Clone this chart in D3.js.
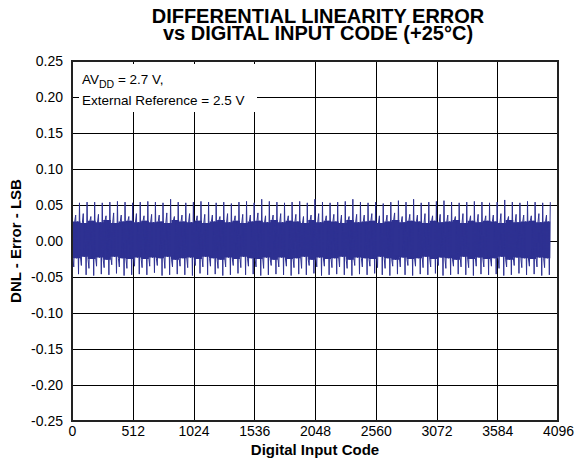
<!DOCTYPE html>
<html>
<head>
<meta charset="utf-8">
<script src="https://cdn.jsdelivr.net/npm/d3@7"></script>
<style>
  html, body { margin: 0; padding: 0; background: #fff; }
  svg { display: block; font-family: "Liberation Sans", Arial, Helvetica, sans-serif; }
</style>
</head>
<body>
<svg id="chart" width="580" height="460"></svg>
<script>
// ---------- data ----------
const titleLines = ["DIFFERENTIAL LINEARITY ERROR", "vs DIGITAL INPUT CODE (+25\u00B0C)"];
const xTicks = [0, 512, 1024, 1536, 2048, 2560, 3072, 3584, 4096];
const yTicks = [-0.25, -0.20, -0.15, -0.10, -0.05, 0.00, 0.05, 0.10, 0.15, 0.20, 0.25];
const xLabel = "Digital Input Code";
const yLabel = "DNL - Error - LSB";

// start code of each 64-code segment
const segStart = [
  0, 64, 128, 192, 256, 320, 384, 448, 512,
  576, 640, 704, 768, 832, 896, 960, 1024, 1088,
  1152, 1216, 1280, 1344, 1408, 1472, 1536, 1600, 1664,
  1728, 1792, 1856, 1920, 1984, 2048, 2112, 2176, 2240,
  2304, 2368, 2432, 2496, 2560, 2624, 2688, 2752, 2816,
  2880, 2944, 3008, 3072, 3136, 3200, 3264, 3328, 3392,
  3456, 3520, 3584, 3648, 3712, 3776, 3840, 3904, 3968
];
// code offsets inside a segment at which the listed values are read
const offBandBotA = 7, offMidNeg = 15, offBandTopA = 23, offMidPos = 31,
      offBandBotB = 39, offBandTopB = 47, offPeakNeg = 55, offPeakPos = 63;

const peakPos = [
  0.053,0.054,0.054,0.053,0.054,0.055,0.054,0.053,0.054,
  0.055,0.054,0.053,0.058,0.054,0.053,0.054,0.055,0.054,
  0.053,0.054,0.052,0.054,0.055,0.053,0.058,0.055,0.054,
  0.053,0.054,0.055,0.053,0.058,0.054,0.053,0.054,0.055,
  0.058,0.054,0.053,0.054,0.052,0.054,0.056,0.054,0.058,
  0.053,0.054,0.055,0.056,0.054,0.053,0.054,0.055,0.054,
  0.053,0.054,0.057,0.054,0.053,0.055,0.054,0.053,0.054
];
const peakNeg = [
  -0.046,-0.047,-0.048,-0.046,-0.047,-0.045,-0.048,-0.047,-0.046,
  -0.047,-0.044,-0.048,-0.047,-0.046,-0.047,-0.048,-0.045,-0.047,
  -0.046,-0.048,-0.047,-0.045,-0.047,-0.046,-0.048,-0.047,-0.046,
  -0.047,-0.048,-0.046,-0.047,-0.045,-0.048,-0.047,-0.046,-0.047,
  -0.048,-0.046,-0.047,-0.045,-0.047,-0.048,-0.046,-0.047,-0.048,
  -0.046,-0.047,-0.045,-0.048,-0.047,-0.046,-0.047,-0.048,-0.046,
  -0.047,-0.046,-0.048,-0.047,-0.045,-0.047,-0.046,-0.048,-0.047
];
const midPos = [
  0.036,0.038,0.034,0.037,0.035,0.039,0.036,0.034,0.038,
  0.035,0.037,0.036,0.039,0.034,0.036,0.038,0.035,0.037,
  0.036,0.034,0.038,0.035,0.037,0.036,0.039,0.035,0.036,
  0.038,0.035,0.037,0.034,0.036,0.038,0.035,0.037,0.036,
  0.034,0.037,0.036,0.038,0.035,0.036,0.039,0.034,0.037,
  0.036,0.038,0.035,0.037,0.036,0.034,0.038,0.035,0.037,
  0.035,0.036,0.038,0.034,0.037,0.036,0.035,0.038,0.036
];
const midNeg = [
  -0.036,-0.034,-0.038,-0.035,-0.037,-0.033,-0.036,-0.038,-0.035,
  -0.037,-0.035,-0.034,-0.038,-0.036,-0.035,-0.037,-0.034,-0.036,
  -0.035,-0.038,-0.036,-0.034,-0.037,-0.035,-0.036,-0.038,-0.034,
  -0.036,-0.035,-0.037,-0.038,-0.034,-0.036,-0.035,-0.037,-0.036,
  -0.038,-0.034,-0.036,-0.035,-0.037,-0.038,-0.035,-0.036,-0.034,
  -0.035,-0.037,-0.036,-0.034,-0.038,-0.035,-0.036,-0.037,-0.035,
  -0.036,-0.035,-0.038,-0.036,-0.034,-0.037,-0.035,-0.036,-0.037
];
const bandTop = [
  0.027,0.025,0.028,0.026,0.029,0.025,0.027,0.028,0.026,
  0.028,0.026,0.027,0.025,0.029,0.027,0.026,0.028,0.025,
  0.027,0.029,0.026,0.028,0.025,0.027,0.028,0.026,0.029,
  0.026,0.028,0.027,0.025,0.029,0.026,0.028,0.027,0.025,
  0.029,0.026,0.027,0.028,0.025,0.027,0.029,0.026,0.028,
  0.027,0.025,0.028,0.026,0.027,0.029,0.025,0.028,0.026,
  0.028,0.027,0.025,0.029,0.026,0.027,0.028,0.026,0.027
];
const bandBot = [
  -0.024,-0.022,-0.025,-0.023,-0.026,-0.022,-0.024,-0.025,-0.023,
  -0.025,-0.023,-0.024,-0.022,-0.026,-0.024,-0.023,-0.025,-0.022,
  -0.024,-0.026,-0.023,-0.025,-0.022,-0.024,-0.025,-0.023,-0.026,
  -0.023,-0.025,-0.024,-0.022,-0.026,-0.023,-0.025,-0.024,-0.022,
  -0.026,-0.023,-0.024,-0.025,-0.022,-0.024,-0.026,-0.023,-0.025,
  -0.024,-0.022,-0.025,-0.023,-0.024,-0.026,-0.022,-0.025,-0.023,
  -0.025,-0.024,-0.022,-0.026,-0.023,-0.024,-0.025,-0.023,-0.024
];

// ---------- layout ----------
const svg = d3.select("#chart");
const margin = { left: 72, right: 22, top: 61, bottom: 39 };
const W = 580, H = 460;
const x = d3.scaleLinear().domain([0, 4096]).range([margin.left, W - margin.right]);
const y = d3.scaleLinear().domain([-0.25, 0.25]).range([H - margin.bottom, margin.top]);
const blue = "#2e3192";
const font = '"Liberation Sans", Arial, Helvetica, sans-serif';

// title (one text element, two lines)
const title = svg.append("text").attr("text-anchor", "middle")
  .attr("font-size", 20).attr("font-weight", "bold");
title.append("tspan").attr("x", 318).attr("y", 23).text(titleLines[0]);
title.append("tspan").attr("x", 318).attr("y", 40).text(titleLines[1]);

// grid
const grid = svg.append("g");
grid.selectAll("line.gx").data(xTicks.slice(1, -1)).join("line")
  .attr("x1", d => Math.round(x(d)) + 0.5).attr("x2", d => Math.round(x(d)) + 0.5)
  .attr("y1", y(0.25)).attr("y2", y(-0.25))
  .attr("stroke", "#000").attr("stroke-width", 1);
grid.selectAll("line.gy").data(yTicks.slice(1, -1)).join("line")
  .attr("y1", d => Math.round(y(d)) + 0.5).attr("y2", d => Math.round(y(d)) + 0.5)
  .attr("x1", x(0)).attr("x2", x(4096))
  .attr("stroke", "#000").attr("stroke-width", 1);

// data: dense band as area, spikes as a polyline
const area = d3.area()
  .x(d => x(d.c)).y0(d => y(d.lo)).y1(d => y(d.hi))
  .curve(d3.curveStepAfter);
const bandPts = segStart.map((s, i) => ({ c: s + offBandBotA, lo: bandBot[i], hi: bandTop[i] }));
bandPts.push({ c: segStart[segStart.length - 1] + offPeakPos, lo: bandBot[bandBot.length - 1], hi: bandTop[bandTop.length - 1] });
svg.append("path").datum(bandPts).attr("d", area).attr("fill", blue);

const linePts = [];
segStart.forEach((s, i) => {
  linePts.push([s + offBandBotA, bandBot[i]]);
  linePts.push([s + offMidNeg, midNeg[i]]);
  linePts.push([s + offBandTopA, bandTop[i]]);
  linePts.push([s + offMidPos, midPos[i]]);
  linePts.push([s + offBandBotB, bandBot[i]]);
  linePts.push([s + offBandTopB, bandTop[i]]);
  linePts.push([s + offPeakNeg, peakNeg[i]]);
  linePts.push([s + offPeakPos, peakPos[i]]);
});
svg.append("path").datum(linePts)
  .attr("d", d3.line().x(d => x(d[0])).y(d => y(d[1])))
  .attr("fill", "none").attr("stroke", blue).attr("stroke-width", 1);

// border
svg.append("rect").attr("x", x(0)).attr("y", y(0.25))
  .attr("width", x(4096) - x(0)).attr("height", y(-0.25) - y(0.25))
  .attr("fill", "none").attr("stroke", "#222").attr("stroke-width", 2);

// axes (labels only)
const xAxis = d3.axisBottom(x).tickValues(xTicks).tickSize(0).tickPadding(5).tickFormat(d3.format("d"));
const gx = svg.append("g").attr("transform", `translate(0,${y(-0.25)})`).call(xAxis);
gx.select(".domain").remove();
gx.selectAll("text").attr("font-size", 14).attr("font-family", font).attr("fill", "#000");

const yAxis = d3.axisLeft(y).tickValues(yTicks).tickSize(0).tickPadding(9).tickFormat(d3.format(".2f"));
const gy = svg.append("g").attr("transform", `translate(${x(0)},0)`).call(yAxis);
gy.select(".domain").remove();
gy.selectAll("text").attr("font-size", 14).attr("font-family", font).attr("fill", "#000")
  .text(d => d3.format(".2f")(d).replace("\u2212", "-"));

// axis titles
svg.append("text").attr("x", (x(0) + x(4096)) / 2).attr("y", 455).attr("text-anchor", "middle")
  .attr("font-size", 15).attr("font-weight", "bold").text(xLabel);
svg.append("text").attr("transform", `translate(21,${(y(0.25) + y(-0.25)) / 2}) rotate(-90)`)
  .attr("text-anchor", "middle").attr("font-size", 15).attr("font-weight", "bold").text(yLabel);

// annotation
svg.append("rect").attr("x", 79).attr("y", 64).attr("width", 178).attr("height", 48).attr("fill", "#fff");
const ann = svg.append("text").attr("x", 82).attr("y", 84).attr("font-size", 13.5);
ann.append("tspan").text("AV");
ann.append("tspan").attr("font-size", 10.5).attr("dy", 4).text("DD");
ann.append("tspan").attr("dy", -4).text(" = 2.7 V,");
svg.append("text").attr("x", 82).attr("y", 105).attr("font-size", 13.5).text("External Reference = 2.5 V");
</script>
</body>
</html>
